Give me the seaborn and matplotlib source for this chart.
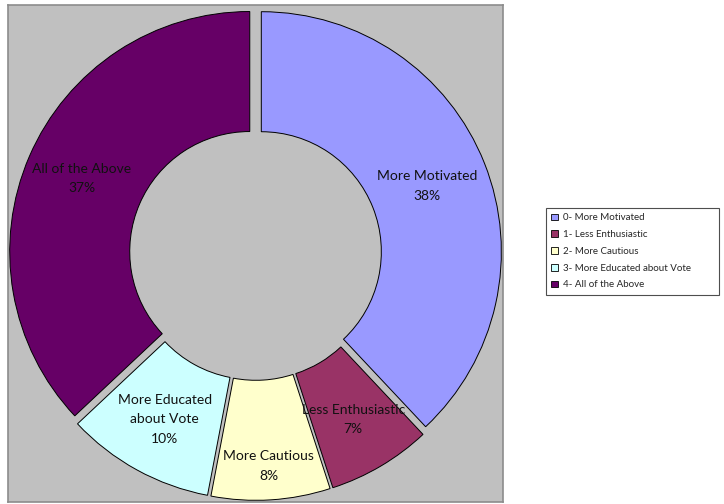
import numpy as np
import matplotlib
matplotlib.use("Agg")
import matplotlib.pyplot as plt
from matplotlib.patches import Patch
import seaborn as sns

categories = ["More Motivated", "Less Enthusiastic", "More Cautious",
              "More Educated\nabout Vote", "All of the Above"]
legend_labels = ["0- More Motivated", "1- Less Enthusiastic", "2- More Cautious",
                 "3- More Educated about Vote", "4- All of the Above"]
shares = [38, 7, 8, 10, 37]
colors = ["#9999FF", "#993366", "#FFFFCC", "#CCFFFF", "#660066"]


def main():
    sns.set_theme(style="white")
    plt.rcParams["font.family"] = ["Lato", "DejaVu Sans"]

    fig = plt.figure(figsize=(7.24, 5.04), dpi=100)
    # grey plot area, pixel box 8..503 x 5..502
    ax = fig.add_axes([8 / 724, 2 / 504, 495 / 724, 497 / 504])

    pal = sns.color_palette(colors)
    wedges, _ = ax.pie(shares, colors=pal, startangle=90, counterclock=False,
                       explode=[0.026] * len(shares),
                       wedgeprops=dict(width=0.5, edgecolor="black", linewidth=0.7),
                       frame=True)

    # labels inside each ring segment
    dists = [0.77, 0.80, 0.885, 0.785, 0.79]
    for w, name, v, d in zip(wedges, categories, shares, dists):
        ang = np.deg2rad((w.theta1 + w.theta2) / 2)
        ax.text(d * np.cos(ang), d * np.sin(ang), f"{name}\n{v}%",
                ha="center", va="center", fontsize=10, color="#111111",
                linespacing=1.75)

    ax.set_aspect("auto")
    ax.set_xlim(-1.031, 1.031)
    ax.set_ylim(-1.033, 1.0375)
    ax.set_xticks([])
    ax.set_yticks([])
    ax.set_facecolor("#C0C0C0")
    for s in ax.spines.values():
        s.set_visible(True)
        s.set_color("#8c8c8c")
        s.set_linewidth(1.2)

    handles = [Patch(facecolor=c, edgecolor="black", linewidth=0.6) for c in colors]
    leg = fig.legend(handles, legend_labels, loc="upper left", mode="expand",
                     bbox_to_anchor=(546 / 724, 1 - 296 / 504, 173 / 724, 88 / 504),
                     fontsize=7, frameon=True, fancybox=False,
                     handlelength=0.65, handleheight=0.65, handletextpad=0.5,
                     borderpad=0.55, labelspacing=0.8, borderaxespad=0)
    leg.get_frame().set_edgecolor("#222222")
    leg.get_frame().set_linewidth(0.8)

    fig.savefig("out.png", dpi=100, facecolor="white")


if __name__ == "__main__":
    main()
